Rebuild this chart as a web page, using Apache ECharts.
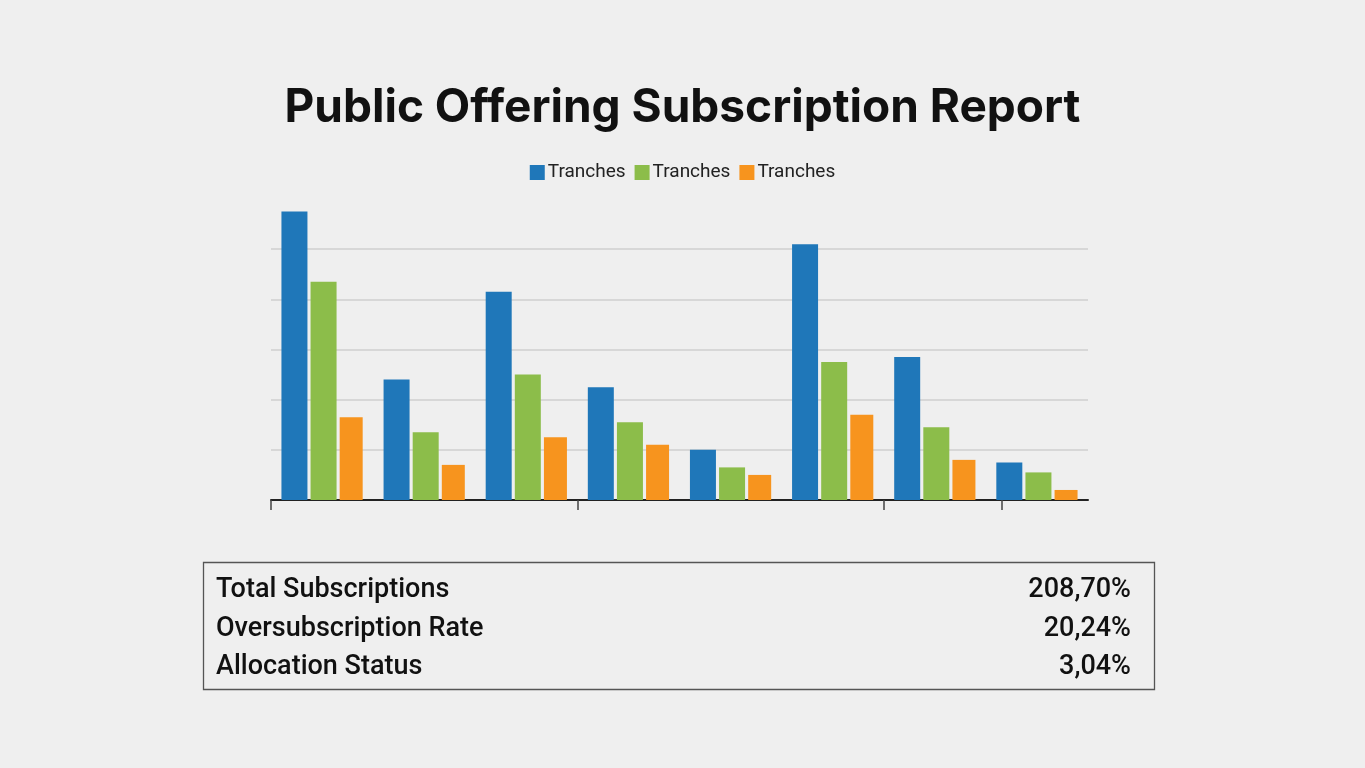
<!DOCTYPE html>
<html>
<head>
<meta charset="utf-8">
<script src="https://cdn.jsdelivr.net/npm/echarts@6/dist/echarts.min.js"></script>
<style>
  html, body { margin: 0; padding: 0; background: #efefef; }
  #chart { width: 1365px; height: 768px; }
</style>
</head>
<body>
<div id="chart"></div>
<script>
// ---- data ----
const categories = ['Tranche 1', 'Tranche 2', 'Tranche 3', 'Tranche 4', 'Tranche 5', 'Tranche 6', 'Tranche 7', 'Tranche 8'];
const blueValues = [115, 48, 83, 45, 20, 102, 57, 15];
const greenValues = [87, 27, 50, 31, 13, 55, 29, 11];
const orangeValues = [33, 14, 25, 22, 10, 34, 16, 4];
const summaryLabels = ['Total Subscriptions', 'Oversubscription Rate', 'Allocation Status'];
const summaryValues = ['208,70%', '20,24%', '3,04%'];
const tickPositions = [0, 3, 6, 7.16];

const colors = ['#1f77b9', '#8cbd4a', '#f7941e'];

const chart = echarts.init(document.getElementById('chart'));

const rowY = [590, 629, 667];
const graphics = [
  {
    type: 'rect',
    shape: { x: 203.5, y: 562.5, width: 951, height: 127 },
    style: { fill: 'rgba(0,0,0,0)', stroke: '#555', lineWidth: 1.3 }
  }
];
summaryLabels.forEach((t, i) => {
  graphics.push({
    type: 'text', x: 216, y: rowY[i],
    style: { text: t, font: '500 27px Roboto', fill: '#111', textVerticalAlign: 'middle', textAlign: 'left' }
  });
  graphics.push({
    type: 'text', x: 1131, y: rowY[i],
    style: { text: summaryValues[i], font: '500 27px Roboto', fill: '#111', textVerticalAlign: 'middle', textAlign: 'right' }
  });
});

const option = {
  backgroundColor: '#efefef',
  animation: false,
  color: colors,
  title: {
    text: 'Public Offering Subscription Report',
    left: 'center',
    top: 80,
    textStyle: { fontFamily: 'Inter', fontWeight: 'bold', fontSize: 46, color: '#111' }
  },
  legend: {
    top: 158,
    left: 'center',
    itemWidth: 15,
    itemHeight: 15,
    itemGap: 9,
    icon: 'rect',
    textStyle: { fontFamily: 'Roboto', fontSize: 19, color: '#222', padding: [0, 0, 0, -2] },
    data: [
      { name: 'Tranches A', itemStyle: { color: colors[0] } },
      { name: 'Tranches B', itemStyle: { color: colors[1] } },
      { name: 'Tranches C', itemStyle: { color: colors[2] } }
    ],
    formatter: function () { return 'Tranches'; }
  },
  grid: { left: 271, right: 277, top: 199, bottom: 268 },
  xAxis: [
    {
      type: 'category',
      data: categories,
      axisLine: { show: true, lineStyle: { color: '#222', width: 2 } },
      axisTick: { show: false },
      axisLabel: { show: false },
      splitLine: { show: false }
    },
    {
      type: 'value',
      position: 'bottom',
      min: 0,
      max: 8,
      axisLine: { show: false },
      axisTick: {
        show: true,
        length: 10,
        lineStyle: { color: '#444', width: 1.5 },
        customValues: tickPositions
      },
      axisLabel: { show: false },
      splitLine: { show: false }
    }
  ],
  yAxis: {
    type: 'value',
    min: 0,
    max: 120,
    interval: 20,
    axisLine: { show: false },
    axisTick: { show: false },
    axisLabel: { show: false },
    splitLine: {
      show: true,
      lineStyle: { color: ['#cfcfcf', '#cfcfcf', '#cfcfcf', '#cfcfcf', '#cfcfcf', '#cfcfcf', 'rgba(0,0,0,0)'], width: 1.5 }
    }
  },
  series: [
    { name: 'Tranches A', type: 'bar', data: blueValues, barWidth: 26, barGap: '12%', itemStyle: { color: colors[0] } },
    { name: 'Tranches B', type: 'bar', data: greenValues, barWidth: 26, barGap: '12%', itemStyle: { color: colors[1] } },
    { name: 'Tranches C', type: 'bar', data: orangeValues, barWidth: 23, barGap: '12%', itemStyle: { color: colors[2] } }
  ],
  graphic: graphics
};

chart.setOption(option);
</script>
</body>
</html>
